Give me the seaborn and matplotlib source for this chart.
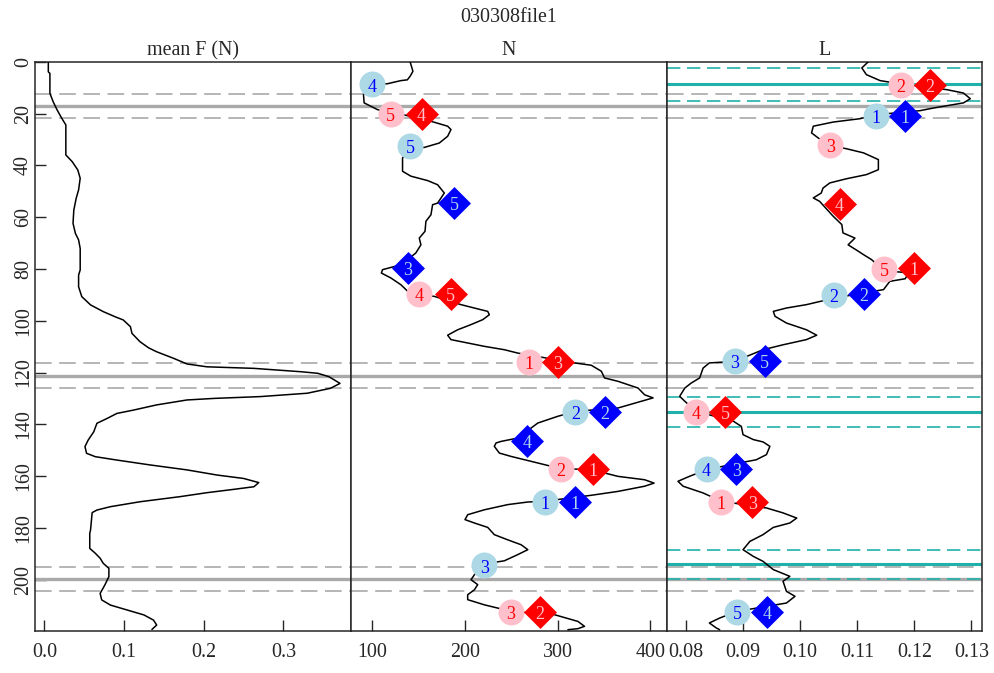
"""
030308file1: mean F, N and L against depth, with ranked markers
"""

import numpy as np
import pandas as pd
import matplotlib
matplotlib.use("Agg")
import matplotlib.pyplot as plt
import seaborn as sns

# ---- data ----
depth_F = [0, 3.9, 4.5, 12.2, 15.4, 18.6, 21.9, 24.4, 36, 38.6, 41.8, 45, 49.5, 52.7,
           57.3, 62.4, 66.3, 68.8, 72.1, 80.4, 82.4, 86.9, 90.7, 93.9, 96.5, 98.5, 99.7,
           102.3, 104.9, 108.1, 110.5, 112, 114.5, 116.7, 117.8, 118.4, 119.7, 120.3,
           121.6, 124.2, 126.1, 128, 129.3, 130, 130.6, 132.5, 134.5, 135.8, 137.7,
           139.6, 142.9, 146.1, 148.6, 151.2, 152.5, 153.8, 155.7, 157.6, 159.6, 160.9,
           162.5, 164.1, 165.1, 166.4, 167.9, 169.9, 171.8, 173.1, 174.1, 180.8, 182.1,
           187.9, 189.8, 191.7, 193.7, 195.6, 198.8, 202, 205.3, 207.8, 209.8, 211.7,
           213.6, 215.6, 217.5, 219.2]
mean_F = [0.005, 0.005, 0.007, 0.007, 0.011, 0.016, 0.022, 0.027, 0.027, 0.035, 0.042,
          0.045, 0.043, 0.040, 0.037, 0.036, 0.039, 0.043, 0.045, 0.045, 0.043, 0.043,
          0.047, 0.058, 0.074, 0.089, 0.099, 0.108, 0.110, 0.120, 0.131, 0.141, 0.162,
          0.179, 0.204, 0.263, 0.322, 0.343, 0.357, 0.371, 0.359, 0.330, 0.271, 0.213,
          0.179, 0.141, 0.112, 0.091, 0.079, 0.066, 0.062, 0.055, 0.051, 0.053, 0.064,
          0.091, 0.133, 0.179, 0.217, 0.250, 0.269, 0.263, 0.238, 0.204, 0.171, 0.120,
          0.083, 0.066, 0.060, 0.058, 0.057, 0.057, 0.064, 0.070, 0.074, 0.081, 0.081,
          0.076, 0.070, 0.072, 0.083, 0.104, 0.125, 0.137, 0.141, 0.135]

depth_N = [0.1, 3.7, 5.6, 7.0, 7.3, 8.5, 8.9, 12.7, 15.9, 18.5, 19.8, 20.7, 23.0, 24.9,
           26.2, 28.8, 31.4, 33.1, 33.3, 37.2, 42.3, 44.2, 45.9, 47.5, 50.7, 54.6, 55.2,
           59.1, 61.6, 65.5, 68.1, 70.7, 73.9, 78.4, 80.3, 81.6, 83.5, 86.1, 88.6, 90.0,
           90.6, 93.8, 95.1, 96.4, 97.7, 99.6, 101.5, 103.5, 105.6, 107.3, 108.6, 109.9,
           111.2, 112.5, 116.3, 117.2, 119.5, 122.1, 123.4, 126, 128.6, 129.8, 131.1,
           133.7, 135, 136.9, 139.5, 145.3, 146.6, 147.2, 148.5, 151.1, 152.4, 154.3,
           157.1, 157.5, 160.1, 161.4, 162.7, 163.9, 165.9, 167.4, 169.7, 170, 171, 173,
           174.9, 176.8, 178.1, 179.8, 182.6, 184.6, 186.5, 188.4, 190.3, 192.7, 193.9,
           198.1, 200, 201.9, 203.9, 205.8, 207.7, 209.7, 212.2, 213.5, 216.1, 218,
           218.9, 219.3]
N_vals = [141, 144, 141, 138, 131, 116.6, 100.4, 90.7, 91.4, 105.8, 120, 136.4, 163.4,
          181.4, 185, 181.4, 172.4, 156.2, 141, 132.8, 132.8, 141.8, 159.8, 170.6, 177.8,
          170.6, 165.2, 163.4, 158, 157, 150.8, 152.6, 147, 131, 111.2, 110, 120.2, 131,
          138.2, 150.8, 167, 195.8, 210.1, 224.6, 226.3, 219.2, 206.6, 192.2, 181.4, 185,
          203, 221, 242.5, 257, 318.1, 336.2, 347, 350.5, 365, 386.6, 393.7, 402.8,
          390.2, 365, 318.9, 300.2, 278.6, 257, 239, 233.6, 231.7, 237.1, 249.8, 271.4,
          303, 336.2, 365, 393.7, 403.9, 393.7, 365, 336.2, 285.7, 267.8, 246.2, 221,
          203, 200.1, 210.2, 224.6, 231.7, 246.2, 260.6, 267.8, 257, 242.5, 221, 210.2,
          206.6, 213.8, 210.2, 203, 203, 221, 249.8, 296.5, 321.8, 328.9, 321.8, 311]

depth_L = [0.1, 2.4, 5.0, 7.3, 8.6, 10.8, 12.1, 14.3, 15.9, 17.9, 18.9, 20.5, 22, 23.3,
           24.9, 27.5, 29.5, 32.3, 33.6, 35.2, 37.8, 41.7, 43.6, 45.2, 46.8, 48.8, 50.7,
           52.6, 53.9, 59.7, 62.9, 66.1, 68.1, 70.7, 73.2, 74.5, 76.4, 80.7, 81.5, 83.8,
           84.8, 88, 91.2, 93.8, 95.1, 96.4, 98.3, 100.9, 103.5, 105.6, 107.3, 109.3,
           111.2, 115.7, 116.3, 118.3, 122.1, 124.1, 126, 129.2, 131.1, 135, 138.8, 140.8,
           144, 145.9, 146.8, 148.5, 151.7, 153.7, 154.9, 157.5, 160.1, 162, 163.9, 166.5,
           169.7, 172.3, 174.2, 176.2, 178.1, 179.8, 182.6, 185.2, 188.4, 191, 192.9,
           196.1, 198.7, 200.6, 204.5, 206.4, 209, 212.2, 214.8, 216.7, 218.6, 219.3]
L_vals = [0.1119, 0.1108, 0.1116, 0.1140, 0.1177, 0.1257, 0.1286, 0.1298, 0.1286, 0.1233,
          0.1210, 0.1131, 0.1105, 0.1058, 0.1023, 0.1020, 0.1032, 0.1052, 0.1081, 0.1111,
          0.1137, 0.1137, 0.1116, 0.1081, 0.1052, 0.1040, 0.1037, 0.1023, 0.1034, 0.1058,
          0.1073, 0.1075, 0.1096, 0.1084, 0.1102, 0.1111, 0.1125, 0.1147, 0.1190, 0.1184,
          0.1157, 0.1146, 0.1061, 0.1011, 0.0976, 0.0953, 0.0956, 0.0976, 0.1011, 0.1029,
          0.1011, 0.0970, 0.0935, 0.0885, 0.0841, 0.0830, 0.0824, 0.0809, 0.0798, 0.0789,
          0.0798, 0.0818, 0.0883, 0.0897, 0.0900, 0.0918, 0.0935, 0.0947, 0.0941, 0.0923,
          0.0894, 0.0836, 0.0806, 0.0786, 0.0795, 0.0830, 0.0862, 0.0941, 0.0970, 0.0994,
          0.0982, 0.0953, 0.0935, 0.0912, 0.0900, 0.0918, 0.0935, 0.0953, 0.0982, 0.0970,
          0.0976, 0.0991, 0.0976, 0.0890, 0.0859, 0.0841, 0.0853, 0.0859]

# ranked markers, N panel
N_lb_x = [100.4, 141.3, 319.0, 285.9, 220.8]
N_lb_y = [8.8, 32.5, 135.1, 169.9, 194.5]
N_lb_lab = [4, 5, 2, 1, 3]
N_pk_x = [119.9, 150.8, 268.9, 303.3, 249.6]
N_pk_y = [20.0, 89.8, 116.0, 157.4, 212.4]
N_pk_lab = [5, 4, 1, 2, 3]
N_bl_x = [188.4, 138.2, 350.5, 267.4, 318.6]
N_bl_y = [54.7, 79.7, 135.1, 146.3, 169.9]
N_bl_lab = [5, 3, 2, 4, 1]
N_rd_x = [153.3, 184.7, 299.8, 337.6, 281.1]
N_rd_y = [20.0, 89.8, 116.0, 157.4, 212.4]
N_rd_lab = [4, 5, 3, 1, 2]

# ranked markers, L panel
L_lb_x = [0.1132, 0.1059, 0.0886, 0.0836, 0.0890]
L_lb_y = [20.8, 90.0, 115.6, 157.4, 212.4]
L_lb_lab = [1, 2, 3, 4, 5]
L_pk_x = [0.1176, 0.1053, 0.1147, 0.0818, 0.0862]
L_pk_y = [8.9, 32.0, 80.0, 135.1, 169.9]
L_pk_lab = [2, 3, 5, 4, 1]
L_bl_x = [0.1183, 0.1111, 0.0938, 0.0888, 0.0942]
L_bl_y = [20.8, 89.7, 115.6, 157.4, 212.4]
L_bl_lab = [1, 2, 5, 3, 4]
L_rd_x = [0.1227, 0.1069, 0.1199, 0.0869, 0.0916]
L_rd_y = [8.9, 54.8, 79.7, 135.1, 169.9]
L_rd_lab = [2, 4, 1, 5, 3]

gray_solid = [17.1, 121.2, 199.7]
gray_dash = [12.3, 21.9, 116.4, 126.0, 194.9, 204.5]
teal_solid = [8.6, 135.2, 194.0]
teal_dash = [2.6, 15.1, 129.6, 141.2, 188.5, 199.6]

# ---- style ----
sns.set_theme(style="ticks")
plt.rcParams["font.family"] = ["Liberation Serif", "DejaVu Serif"]
plt.rcParams["axes.linewidth"] = 1.1

FS = 14.4
GRAY = "#a9a9a9"
TEAL = "#20b2aa"

fig, axes = plt.subplots(1, 3, figsize=(9.95, 6.73), dpi=100, sharey=True)
fig.subplots_adjust(left=35 / 995, right=982.3 / 995, top=1 - 61.7 / 673,
                    bottom=1 - 631 / 673, wspace=0)


def add_marks(ax, xs, ys, labels, face, txt, marker, size):
    sns.scatterplot(x=xs, y=ys, ax=ax, marker=marker, s=size, color=face,
                    linewidth=0, zorder=4, legend=False)
    for x, y, lab in zip(xs, ys, labels):
        ax.text(x, y + 1.0, str(lab), color=txt, fontsize=13, ha="center",
                va="center", zorder=5)


curves = [(mean_F, depth_F, "mean F (N)"), (N_vals, depth_N, "N"), (L_vals, depth_L, "L")]
xlims = [(-0.0117, 0.3845), (77, 417.3), (0.0766, 0.1319)]
xticks = [[0.0, 0.1, 0.2, 0.3], [100, 200, 300, 400],
          [0.08, 0.09, 0.10, 0.11, 0.12, 0.13]]
xfmt = ["{:.1f}", "{:.0f}", "{:.2f}"]

for ax, (vals, dep, title), xl, xt, fmt in zip(axes, curves, xlims, xticks, xfmt):
    for g in gray_solid:
        ax.axhline(g, color=GRAY, lw=2.4, zorder=1)
    for g in gray_dash:
        ax.axhline(g, color=GRAY, lw=1.2, dashes=(10, 4.5), zorder=1)
    df = pd.DataFrame({"v": vals, "d": dep})
    sns.lineplot(data=df, x="v", y="d", orient="y", sort=False, estimator=None,
                 color="black", lw=1.1, ax=ax, zorder=3)
    ax.set_xlim(*xl)
    ax.set_xticks(xt)
    ax.set_xticklabels([fmt.format(t) for t in xt], fontsize=FS)
    ax.set_title(title, fontsize=FS, pad=4.5)
    ax.set_xlabel("")
    ax.set_ylabel("")
    ax.tick_params(axis="x", direction="in", length=8, width=1.0, pad=8.5)
    ax.tick_params(axis="y", direction="in", length=8, width=1.0, pad=1.5)

# teal bands only on L
for t in teal_solid:
    axes[2].axhline(t, color=TEAL, lw=2.2, zorder=2)
for t in teal_dash:
    axes[2].axhline(t, color=TEAL, lw=1.2, dashes=(8, 4), zorder=2)

CIRC = 350
DIAM = 282
add_marks(axes[1], N_lb_x, N_lb_y, N_lb_lab, "lightblue", "blue", "o", CIRC)
add_marks(axes[1], N_pk_x, N_pk_y, N_pk_lab, "pink", "red", "o", CIRC)
add_marks(axes[1], N_bl_x, N_bl_y, N_bl_lab, "blue", "lightblue", "D", DIAM)
add_marks(axes[1], N_rd_x, N_rd_y, N_rd_lab, "red", "pink", "D", DIAM)
add_marks(axes[2], L_lb_x, L_lb_y, L_lb_lab, "lightblue", "blue", "o", CIRC)
add_marks(axes[2], L_pk_x, L_pk_y, L_pk_lab, "pink", "red", "o", CIRC)
add_marks(axes[2], L_bl_x, L_bl_y, L_bl_lab, "blue", "lightblue", "D", DIAM)
add_marks(axes[2], L_rd_x, L_rd_y, L_rd_lab, "red", "pink", "D", DIAM)

ax0 = axes[0]
ax0.set_ylim(219.8, 0)
ax0.set_yticks(range(0, 201, 20))
ax0.set_yticklabels([str(t) for t in range(0, 201, 20)], fontsize=FS,
                    rotation=90, va="center")
for ax in axes[1:]:
    ax.tick_params(axis="y", left=False, labelleft=False)

fig.text(0.511, 1 - 18 / 673, "030308file1", fontsize=FS, ha="center", va="center")

fig.savefig("out.png", dpi=100)
